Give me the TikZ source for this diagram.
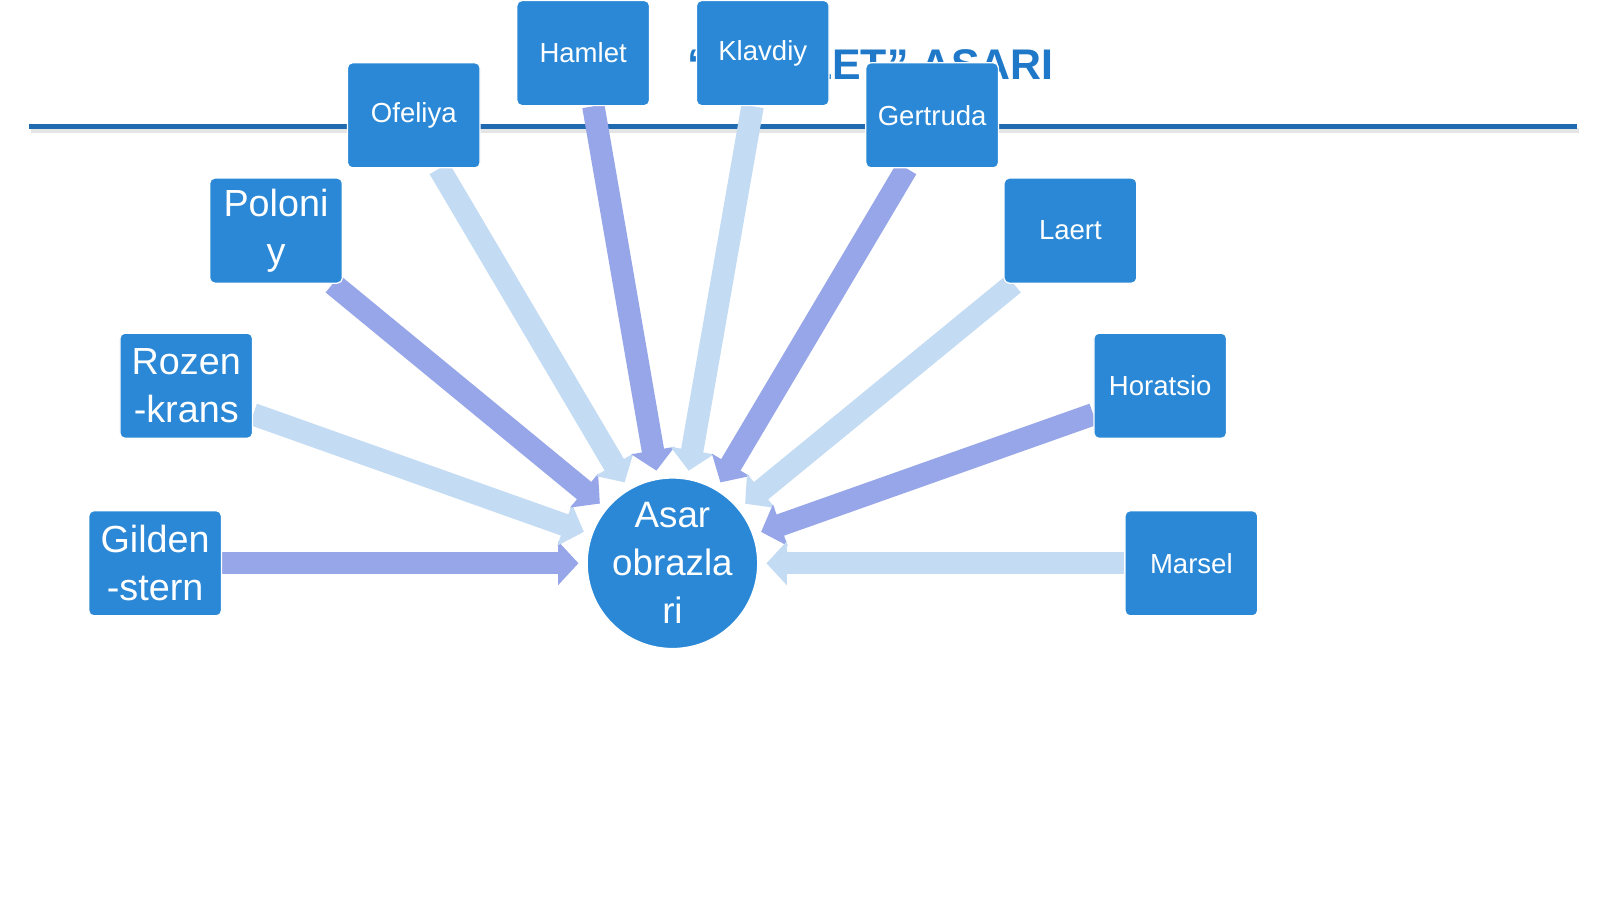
\documentclass[tikz,border=0pt]{standalone}
\usepackage{fontspec}
\setmainfont{Liberation Sans}
\usetikzlibrary{arrows.meta}
\pgfdeclarelayer{bg}
\pgfdeclarelayer{bgtitle}
\pgfsetlayers{bgtitle,bg,main}
\definecolor{boxc}{HTML}{2A88D6}
\definecolor{titc}{HTML}{1F78C8}
\definecolor{linec}{HTML}{1F6AB0}
\definecolor{arA}{HTML}{97A6E8}
\definecolor{arB}{HTML}{C3DBF3}
\begin{document}
\begin{tikzpicture}[x=1pt,y=-1pt,
  box/.style={draw=white,line width=1.2pt,fill=boxc,rounded corners=5pt,minimum width=130pt,minimum height=103pt,text=white,font=\fontsize{27}{31}\selectfont,align=center,inner sep=2pt},
  bbox/.style={box,font=\fontsize{37}{47}\selectfont},
  arr/.style={line width=22pt,-{Triangle[width=42pt,length=20pt]},shorten >=8pt},
  a1/.style={arr,draw=arA},
  a2/.style={arr,draw=arB}]
\useasboundingbox (0,0) rectangle (1568,881);
\begin{pgfonlayer}{bgtitle}
\fill[white] (0,0) rectangle (1568,881);
\node[font=\bfseries\fontsize{42}{46}\selectfont,text=titc,anchor=base] (t) at (853,78) {“HAMLET” ASARI};
\draw[gray!20,line width=5pt] (30,128) -- (1547,128);
\draw[linec,line width=4pt] (28,124) -- (1545,124);
\end{pgfonlayer}
\node[circle,fill=boxc,draw=white,line width=1.2pt,minimum size=137pt,inner sep=0pt,text=white,align=center,font=\fontsize{36}{47}\selectfont] (c) at (659,552) {Asar\\obrazla\\ri};
\path (571.5,52) node[box] (hamlet) {Hamlet}
      (747.5,52) node[box] (klav) {Klavdiy}
      (405.5,113) node[box] (ofe) {Ofeliya}
      (913.5,113) node[box] (ger) {Gertruda}
      (270.5,226) node[bbox] (pol) {Poloni\\y}
      (1049,226) node[box] (lae) {Laert}
      (182.5,378) node[bbox] (roz) {Rozen\\-krans}
      (1137,378) node[box] (hor) {Horatsio}
      (152,552) node[bbox] (gil) {Gilden\\-stern}
      (1167.5,552) node[box] (mar) {Marsel};
\begin{pgfonlayer}{bg}
\draw[a1] (gil.east) -- (c);
\draw[a2] (roz.east) ++(0,28) coordinate (r1) (r1) -- (c);
\draw[a1] (pol.south east) ++(-10,0) coordinate (p1) (p1) -- (c);
\draw[a2] (ofe.south) ++(25,0) coordinate (o1) (o1) -- (c);
\draw[a1] (hamlet.south) ++(10,0) coordinate (h1) (h1) -- (c);
\draw[a2] (klav.south) ++(-10,0) coordinate (k1) (k1) -- (c);
\draw[a1] (ger.south) ++(-25,0) coordinate (g1) (g1) -- (c);
\draw[a2] (lae.south west) ++(10,0) coordinate (l1) (l1) -- (c);
\draw[a1] (hor.west) ++(0,28) coordinate (ho1) (ho1) -- (c);
\draw[a2] (mar.west) -- (c);
\end{pgfonlayer}
\end{tikzpicture}
\end{document}
